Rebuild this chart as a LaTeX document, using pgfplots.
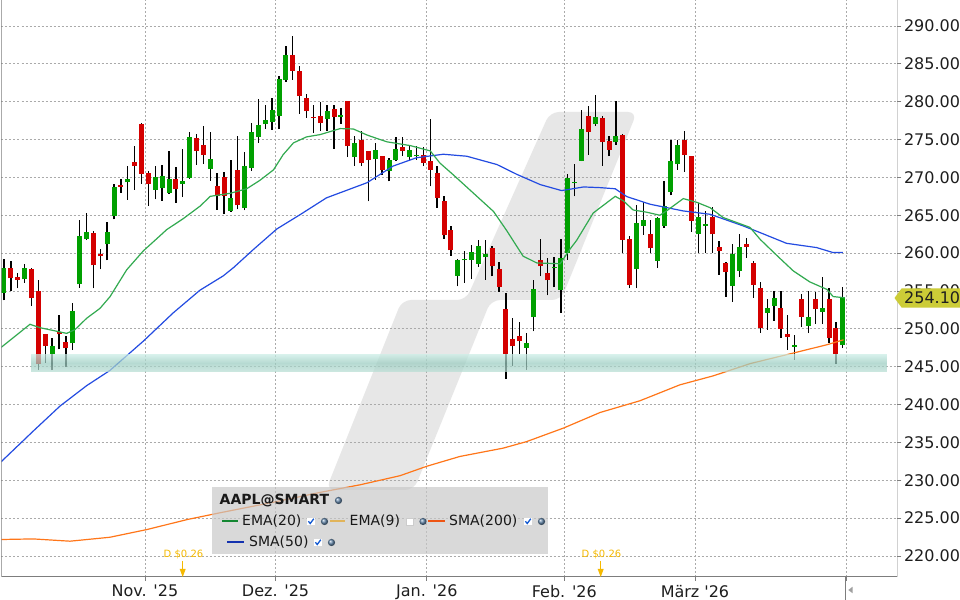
\documentclass[border=0pt]{standalone}
\usepackage{fontspec}
\newfontfamily\dv{DejaVu Sans}
\usepackage{pgfplots}
\pgfplotsset{compat=1.18}
\usepackage{pgfplotstable}

\definecolor{cg}{RGB}{0,160,0}
\definecolor{cr}{RGB}{212,0,0}
\definecolor{ema}{RGB}{50,170,80}
\definecolor{smaf}{RGB}{35,75,225}
\definecolor{smat}{RGB}{255,118,25}
\definecolor{gridc}{RGB}{170,170,170}
\definecolor{axc}{RGB}{125,125,125}
\definecolor{wm}{RGB}{231,231,231}
\definecolor{bandtop}{RGB}{200,236,228}
\definecolor{bandmid}{RGB}{155,205,193}
\definecolor{bandbot}{RGB}{185,222,213}
\definecolor{pricebg}{RGB}{204,204,55}
\definecolor{divc}{RGB}{245,185,0}
\definecolor{legbg}{RGB}{200,200,200}
\definecolor{tickc}{RGB}{30,30,30}
\definecolor{chkc}{RGB}{20,90,210}
\definecolor{globec}{RGB}{100,135,170}
\definecolor{lgema}{RGB}{20,135,50}
\definecolor{lgemanine}{RGB}{225,180,90}
\definecolor{lgsmat}{RGB}{238,85,20}
\definecolor{lgsmaf}{RGB}{20,50,175}

\newcommand\tickfont{\dv\fontsize{16bp}{18bp}\selectfont}
\newcommand\legfont{\dv\fontsize{14bp}{16bp}\selectfont}
\newcommand\globe[2]{\shade[ball color=globec] (#1,#2) circle (3.6);}
\newcommand\chk[2]{\fill[white] (#1-3.6,#2-3.6) rectangle (#1+3.6,#2+3.6);
  \draw[chkc, line width=1.3bp] (#1-2.6,#2-0.2) -- (#1-0.8,#2+2.0) -- (#1+2.8,#2-2.8);}

% candles: index, open, high, low, close
\pgfplotstableread{
i o h l c
0 254.74 259.20 253.77 258.00
3 256.54 258.57 256.06 258.00
7 246.63 248.83 244.56 247.69
10 248.08 253.37 247.20 252.31
11 255.88 264.38 255.44 262.27
12 261.83 265.26 261.70 262.75
15 261.17 264.07 259.05 262.84
16 264.87 269.10 264.47 268.79
18 269.36 271.52 267.03 269.76
22 268.35 271.48 267.11 270.02
23 268.57 271.70 266.89 270.15
24 267.95 273.46 267.86 269.76
26 269.14 273.72 267.38 269.49
27 269.93 276.00 269.85 275.35
30 271.08 276.00 269.54 272.40
33 265.57 272.27 265.48 267.33
35 265.93 273.37 265.66 271.48
36 271.26 277.25 270.86 276.00
37 275.31 280.42 274.56 276.98
38 277.03 279.50 276.46 277.56
39 277.38 280.46 276.30 278.88
40 278.08 283.46 276.35 283.06
41 282.93 287.42 282.58 286.23
47 277.78 279.63 276.10 278.74
49 277.95 279.23 277.11 278.30
51 272.67 275.53 271.56 274.56
54 272.40 274.56 269.71 273.68
56 270.81 272.58 269.49 272.36
57 272.36 275.35 272.14 273.81
59 272.67 274.34 272.27 273.68
60 272.80 274.12 272.36 273.02
66 257.03 259.23 255.62 259.05
67 259.05 260.24 256.06 259.27
68 259.14 261.12 256.59 260.15
69 258.61 261.78 258.17 260.99
70 259.45 261.78 256.50 259.93
76 247.47 249.49 244.60 248.13
77 251.56 256.50 249.67 255.31
80 257.99 259.45 255.48 258.22
81 255.18 261.92 252.10 259.36
82 260.02 270.51 259.14 269.93
83 269.27 271.78 267.51 269.45
84 272.22 278.96 272.14 276.45
86 277.11 280.90 276.76 278.00
89 274.65 280.15 274.34 275.53
92 257.87 266.32 255.36 263.94
93 263.59 266.76 262.40 264.34
95 258.97 264.82 258.09 264.65
96 263.59 269.53 263.37 266.23
97 268.08 274.94 267.64 272.17
98 271.73 274.94 270.98 274.24
101 262.49 266.67 260.07 264.78
102 263.59 265.57 260.07 263.81
106 255.67 261.17 253.60 259.85
107 257.65 262.49 256.90 260.82
111 252.06 253.91 249.86 252.81
112 253.03 255.01 251.05 254.13
115 247.62 249.20 245.90 247.93
117 250.39 255.01 249.42 251.58
119 252.24 256.90 250.61 252.81
122 247.88 255.54 247.44 254.10
}\greentab

\pgfplotstableread{
i o h l c
1 258.00 259.00 254.96 256.67
2 256.80 257.40 255.35 256.45
4 257.86 258.08 253.00 254.03
5 254.96 256.40 244.56 245.40
6 249.27 249.30 245.50 247.73
8 249.54 251.78 247.29 249.27
9 248.20 249.05 244.96 247.42
13 262.62 262.93 255.35 258.39
14 259.89 260.55 257.86 259.58
17 268.96 269.85 267.99 268.74
19 272.05 274.12 268.35 271.48
20 277.03 277.25 269.14 270.46
21 270.55 270.86 266.23 269.10
25 269.76 271.39 266.67 268.44
28 275.18 275.70 271.65 273.50
29 274.30 276.80 271.74 272.97
31 268.83 270.55 265.70 267.51
32 270.02 270.77 265.13 267.55
34 270.95 275.48 265.79 266.32
42 286.23 288.66 282.89 284.12
43 284.12 284.78 278.44 280.73
44 280.51 281.08 277.86 278.74
45 278.04 279.63 275.87 277.82
46 278.17 280.02 276.10 277.16
48 279.10 279.63 273.77 278.04
50 280.15 280.15 272.67 274.12
52 275.00 276.19 271.48 271.87
53 273.55 273.55 266.85 272.27
55 272.89 272.89 270.37 270.95
58 274.07 275.35 272.89 273.46
61 272.97 274.03 271.48 271.92
62 272.22 277.78 268.83 271.04
63 270.59 271.48 265.97 267.29
64 266.94 267.51 261.92 262.36
65 263.11 263.63 259.67 260.37
71 260.68 260.99 256.94 258.26
72 257.91 258.83 254.87 255.48
73 252.67 254.74 243.37 246.67
74 248.66 251.43 245.07 247.69
75 249.10 250.90 246.67 248.35
78 259.14 261.92 256.94 258.26
79 257.38 259.36 254.43 256.41
85 278.17 279.49 273.00 275.97
87 277.86 278.17 271.56 274.65
88 274.87 275.44 272.80 273.68
90 275.56 275.69 260.07 261.74
91 261.92 262.27 255.36 255.80
94 262.49 264.38 259.98 260.64
99 274.94 276.13 270.72 272.96
100 272.83 272.83 262.80 264.25
103 264.78 266.14 260.07 262.49
104 260.82 261.61 257.12 260.29
105 258.75 258.84 254.26 257.52
108 261.17 262.05 259.41 260.82
109 258.66 258.97 254.13 255.80
110 255.36 256.24 249.51 250.08
113 252.72 255.01 248.85 249.95
114 249.38 251.80 247.22 248.94
116 253.91 254.57 250.26 251.58
118 254.00 254.88 250.70 252.59
120 253.91 255.45 248.19 248.76
121 250.08 250.92 245.33 246.65
}\redtab

\begin{document}
\begin{tikzpicture}
\path[use as bounding box, fill=white] (0,0) rectangle (960bp,600bp);

% watermark
\begin{scope}[x=1bp,y=-1bp,yshift=600bp]
\fill[wm, rounded corners=9bp] (550,112) -- (637,112) -- (561,300) -- (491,300) -- (414,490) -- (326,490) -- (402,300) -- (466,300) -- cycle;
\end{scope}

\begin{axis}[
  at={(1.5bp,23.3bp)}, anchor=south west,
  scale only axis, width=895.8bp, height=576.7bp,
  xmin=-0.3636, xmax=129.93, ymin=217.26, ymax=293.434,
  axis line style={draw=none},
  xtick={20.5,39.5,61.5,81.5,100.5,122.5},
  xticklabels={{Nov. '25},{Dez. '25},{Jan. '26},{Feb. '26},{März '26},{}},
  ytick={220,225,...,290},
  xtick pos=bottom, ytick pos=right,
  tick align=outside, major tick length=4bp,
  tick style={axc, line width=0.8bp},
  grid=major,
  major grid style={gridc, dash pattern=on 2bp off 2bp, line width=0.7bp},
  tick label style={font=\tickfont, text=tickc},
  yticklabel style={/pgf/number format/fixed, /pgf/number format/fixed zerofill,
    /pgf/number format/precision=2, /pgf/number format/1000 sep={},
    /pgf/number format/assume math mode=true, anchor=west, inner sep=0pt},
  xticklabel style={anchor=north, inner sep=0pt},
  xticklabel shift=4bp, yticklabel shift=2.5bp,
]
% wicks
\addplot[draw=none, mark=none, error bars/.cd, y dir=plus, y explicit, error mark=none,
  error bar style={draw=black, line width=1.3bp}]
  table[x=i, y=l, y error expr=\thisrow{h}-\thisrow{l}] {\greentab};
\addplot[draw=none, mark=none, error bars/.cd, y dir=plus, y explicit, error mark=none,
  error bar style={draw=black, line width=1.3bp}]
  table[x=i, y=l, y error expr=\thisrow{h}-\thisrow{l}] {\redtab};
% bodies
\addplot[draw=none, mark=none, error bars/.cd, y dir=plus, y explicit, error mark=none,
  error bar style={draw=cg, line width=5bp}]
  table[x=i, y=o, y error expr=\thisrow{c}-\thisrow{o}] {\greentab};
\addplot[draw=none, mark=none, error bars/.cd, y dir=plus, y explicit, error mark=none,
  error bar style={draw=cr, line width=5bp}]
  table[x=i, y=c, y error expr=\thisrow{o}-\thisrow{c}] {\redtab};

% SMA(200)
\addplot[smat, line width=1.2bp, no marks] coordinates {
(-0.58,222.17) (4.26,222.25) (9.6,221.95) (15.4,222.47) (20.8,223.49) (26.6,224.8)
(31.4,225.7) (39.2,227.1) (46.0,228.4) (51.8,229.4) (57.6,230.6) (61.5,231.85)
(66.3,233.14) (72.6,234.24) (76.0,235.1) (81.4,236.9) (86.7,238.95) (92.5,240.5)
(98.3,242.6) (103.2,243.8) (108.5,245.4) (114.8,246.8) (119.7,247.9) (122.1,248.55)
};
% SMA(50)
\addplot[smaf, line width=1.2bp, no marks] coordinates {
(-0.58,232.3) (4.26,236.5) (8.15,239.8) (12.03,242.5) (15.4,244.5) (20.3,248.4)
(24.6,252.1) (28.5,255.1) (31.9,257.0) (33.4,258.1) (36.3,260.5) (39.7,263.2)
(43.1,265.1) (46.9,267.3) (52.8,269.3) (56.6,271.5) (60.0,272.6) (63.9,273.06)
(67.3,272.8) (71.7,271.7) (74.6,270.4) (78.0,269.05) (81.1,268.26) (84.3,268.74)
(86.7,268.65) (88.9,268.5) (90.6,267.46) (94.0,266.45) (98.8,265.57) (102.7,265.13)
(107.5,263.6) (110.0,262.7) (113.8,261.3) (118.2,260.73) (120.6,260.07) (122.0,260.07)
};
% EMA(20)
\addplot[ema, line width=1.2bp, no marks] coordinates {
(-0.58,247.43) (3.78,250.6) (5.24,250.15) (9.12,249.4) (10.33,249.9) (12.03,251.4)
(13.96,252.7) (15.42,254.25) (17.85,257.8) (20.27,260.3) (22.7,262.3) (23.66,263.1)
(26.08,264.56) (28.51,266.2) (30.0,267.5) (32.9,267.9) (35.3,268.5) (37.2,269.6)
(39.2,271.0) (40.6,273.0) (42.1,274.56) (44.0,275.35) (46.0,275.66) (48.9,276.45)
(50.8,276.4) (52.8,275.6) (54.7,275.0) (55.7,274.7) (59.1,274.2) (62.0,273.5)
(63.4,271.9) (65.4,270.3) (68.3,267.9) (71.2,265.5) (73.1,263.0) (75.5,259.6)
(77.5,258.7) (80.9,258.6) (82.3,260.5) (83.3,261.7) (85.7,265.3) (88.9,267.5)
(90.1,266.9) (91.5,265.7) (93.5,265.4) (95.4,265.0) (96.4,265.6) (98.8,267.2)
(100.8,266.7) (102.7,266.0) (104.6,264.7) (108.5,263.4) (110.0,261.8) (112.4,259.7)
(114.8,257.65) (117.2,256.2) (119.7,255.2) (120.6,254.26) (122.3,254.1)
};

% support band
\shade[top color=bandtop, bottom color=bandbot, middle color=bandmid, opacity=0.72]
  (axis cs:3.93,244.4) rectangle (axis cs:128.4,246.6);

% frame
\draw[axc, line width=1bp] (rel axis cs:0,1) -- (rel axis cs:0,0) -- (rel axis cs:1,0) -- (rel axis cs:1,1);
\end{axis}

\begin{scope}[x=1bp,y=-1bp,yshift=600bp]
% legend box
\fill[legbg, fill opacity=0.68] (211.7,486.7) rectangle (548.3,554);
\node[anchor=west, inner sep=0pt, font=\legfont\bfseries, text=black!90] at (219.5,501) {AAPL@SMART};
\globe{338.5}{500.5}
\draw[lgema, line width=2bp] (222,521.5) -- (238,521.5);
\node[anchor=west, inner sep=0pt, font=\legfont, text=black!90] at (242,521.5) {EMA(20)};
\chk{311}{521.5} \globe{324.5}{521.5}
\draw[lgemanine, line width=2bp] (330,521.5) -- (345,521.5);
\node[anchor=west, inner sep=0pt, font=\legfont, text=black!90] at (349.5,521.5) {EMA(9)};
\fill[white, draw=gray!40, line width=0.6bp] (406.5,518) rectangle (413.5,525);
\globe{423}{521.5}
\draw[lgsmat, line width=2bp] (428,521.5) -- (445,521.5);
\node[anchor=west, inner sep=0pt, font=\legfont, text=black!90] at (449,521.5) {SMA(200)};
\chk{528}{521.5} \globe{541.5}{521.5}
\draw[lgsmaf, line width=2bp] (227,542.5) -- (244,542.5);
\node[anchor=west, inner sep=0pt, font=\legfont, text=black!90] at (249,542.5) {SMA(50)};
\chk{318}{542.5} \globe{331.5}{542.5}

% dividends
\node[divc, inner sep=0pt, font=\dv\fontsize{10bp}{12bp}\selectfont] at (183.5,554) {D \$0.26};
\draw[divc, line width=1bp] (182.7,561) -- (182.7,571);
\fill[divc] (179.7,569) -- (185.7,569) -- (182.7,577) -- cycle;
\node[divc, inner sep=0pt, font=\dv\fontsize{10bp}{12bp}\selectfont] at (601.5,554) {D \$0.26};
\draw[divc, line width=1bp] (600.7,561) -- (600.7,571);
\fill[divc] (597.7,569) -- (603.7,569) -- (600.7,577) -- cycle;

% current marker below axis
\draw[axc, line width=0.8bp] (845.5,577) -- (845.5,600);
\fill[gray!75] (848.3,590) -- (852.5,586.8) -- (852.5,593.2) -- cycle;

% price label
\fill[pricebg] (894.5,298) -- (901.7,288.3) -- (960,288.3) -- (960,307.7) -- (901.7,307.7) -- cycle;
\node[anchor=west, inner sep=0pt, font=\tickfont, text=tickc] at (904,298) {254.10};
\end{scope}
\end{tikzpicture}
\end{document}
